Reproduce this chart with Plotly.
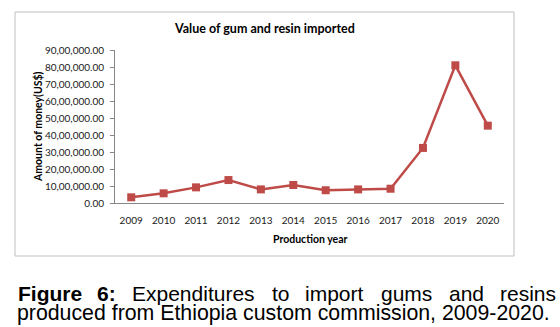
import plotly.graph_objects as go

years = ["2009", "2010", "2011", "2012", "2013", "2014", "2015", "2016", "2017", "2018", "2019", "2020"]
values = [3350000, 5700000, 9200000, 13500000, 8000000, 10600000, 7500000, 8000000, 8400000, 32400000, 81000000, 45500000]
ytick_vals = [0, 10000000, 20000000, 30000000, 40000000, 50000000, 60000000, 70000000, 80000000, 90000000]
ytick_text = ["0.00", "10,00,000.00", "20,00,000.00", "30,00,000.00", "40,00,000.00",
              "50,00,000.00", "60,00,000.00", "70,00,000.00", "80,00,000.00", "90,00,000.00"]
title_text = "Value of gum and resin imported"
x_title = "Production year"
y_title = "Amount of money(US$)"
caption_line1 = [("<b>Figure</b>", 16), ("<b>6:</b>", 95), ("Expenditures", 130), ("to", 270),
                 ("import", 303), ("gums", 379), ("and", 447), ("resins", 498)]
caption_line2 = "produced from Ethiopia custom commission, 2009-2020."

W, H = 560, 327
L, R, T, B = 115, 504, 50, 203  # plot area pixels


def px(x):
    return (x - L) / (R - L)


def py(y):
    return (B - y) / (B - T)


fig = go.Figure()
fig.add_trace(go.Scatter(
    x=list(range(len(years))), y=values, mode="lines+markers",
    line=dict(color="#BE4B48", width=2.5),
    marker=dict(symbol="square", size=8, color="#BE4B48"),
    hoverinfo="skip", showlegend=False,
))

tick_font = dict(family="Lato", size=10, color="#1A1A1A")
fig.update_layout(
    width=W, height=H,
    margin=dict(l=L, r=W - R, t=T, b=H - B, pad=0),
    paper_bgcolor="white", plot_bgcolor="white",
    xaxis=dict(range=[-0.5, len(years) - 0.5], tickmode="array",
               tickvals=list(range(len(years))), ticktext=years,
               showgrid=False, zeroline=False, showline=True, linecolor="#868686",
               linewidth=1, ticks="", tickfont=tick_font, ticklabelstandoff=8,
               fixedrange=True),
    yaxis=dict(range=[0, 90000000], tickmode="array", tickvals=ytick_vals, ticktext=ytick_text,
               showgrid=False, zeroline=False, showline=True, linecolor="#868686",
               linewidth=1, ticks="outside", ticklen=4, tickcolor="#868686",
               tickfont=tick_font, ticklabelstandoff=4, fixedrange=True),
)

shapes = [dict(type="rect", xref="paper", yref="paper",
               x0=px(15), x1=px(514), y0=py(256), y1=py(12),
               line=dict(color="#BFBFBF", width=1), fillcolor="rgba(0,0,0,0)")]
fig.update_layout(shapes=shapes)

ann = []
ann.append(dict(text="<b>" + title_text + "</b>", x=px(264), y=py(28), xref="paper", yref="paper",
                xanchor="center", yanchor="middle", showarrow=False,
                font=dict(family="Lato", size=12.5, color="black")))
ann.append(dict(text="<b>" + x_title + "</b>", x=px(310), y=py(239), xref="paper", yref="paper",
                xanchor="center", yanchor="middle", showarrow=False,
                font=dict(family="Lato", size=10.5, color="black")))
ann.append(dict(text="<b>" + y_title + "</b>", x=px(38), y=py(127), xref="paper", yref="paper",
                xanchor="center", yanchor="middle", showarrow=False, textangle=-90,
                font=dict(family="Lato", size=10.5, color="black")))
for word, xl in caption_line1:
    ann.append(dict(text=word, x=px(xl), y=py(293), xref="paper", yref="paper",
                    xanchor="left", yanchor="middle", showarrow=False,
                    font=dict(family="Liberation Sans", size=21, color="black")))
ann.append(dict(text=caption_line2, x=px(15), y=py(313), xref="paper", yref="paper",
                xanchor="left", yanchor="middle", showarrow=False,
                font=dict(family="Liberation Sans", size=21.3, color="black")))
fig.update_layout(annotations=ann)

fig.write_html("out.html")
